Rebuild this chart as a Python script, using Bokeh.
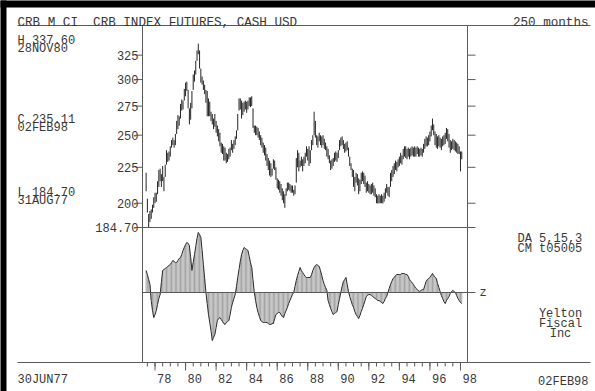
import math
from bokeh.plotting import figure
from bokeh.models import Range1d, LinearScale, Label, BoxAnnotation, ColumnDataSource
from bokeh.core.properties import value
from bokeh.embed import file_html
from bokeh.resources import INLINE

FONT = "Liberation Mono"
INK = "#383838"
RULE = "#5a5a5a"

# ---- monthly CRB index bars, Jun 1977 .. Feb 1998 ----
first_year, first_month = 1977, 6

price_low = [
    208, 194, 184.7, 188, 190, 194, 197,                        # 1977 Jun-Dec
    200, 201, 206, 211, 215, 211, 215, 208, 218, 227, 229, 230,  # 1978
    233, 240, 242, 240, 242, 251, 255, 258, 264, 271, 272, 280,  # 1979
    284, 289, 273, 259, 263, 273, 290, 298, 305, 319, 326, 311,  # 1980
    297, 295, 290, 286, 278, 266, 266, 266, 262, 259, 255, 257,  # 1981
    252, 249, 245, 241, 236, 235, 230, 230, 228, 229, 231, 233,  # 1982
    238, 236, 239, 242, 247, 254, 271, 272, 264, 267, 270, 272,  # 1983
    269, 272, 275, 274, 275, 256, 252, 250, 250, 248, 246, 242,  # 1984
    240, 236, 234, 230, 226, 223, 219, 218, 219, 224, 223, 216,  # 1985
    210, 209, 207, 205, 202, 200, 197, 205, 208, 209, 208, 207,  # 1986
    207, 205, 206, 214, 225, 222, 225, 226, 222, 226, 228, 233,  # 1987
    230, 226, 228, 238, 242, 250, 248, 242, 240, 245, 242, 240,  # 1988
    242, 239, 238, 233, 231, 228, 223, 224, 226, 229, 230, 229,  # 1989
    232, 238, 241, 242, 239, 236, 237, 238, 233, 226, 223, 218,  # 1990
    211, 208, 214, 212, 206, 208, 213, 215, 213, 211, 207, 208,  # 1991
    207, 206, 206, 207, 205, 204, 200, 199.8, 200, 200, 200, 199.8,  # 1992
    201, 203, 207, 205, 204, 211, 215, 218, 220, 223, 222, 225,  # 1993
    226, 228, 227, 231, 233, 232, 231, 233, 231, 233, 234, 233,  # 1994
    233, 233, 235, 233, 233, 234, 233, 236, 239, 241, 241, 242,  # 1995
    245, 249, 254, 250, 242, 240, 239, 241, 240, 238, 241, 242,  # 1996
    243, 247, 245, 240, 236, 238, 239, 238, 237, 236, 235, 235,  # 1997
    222, 231,                                                    # 1998 Jan-Feb
]

price_high = [
    221, 203, 193, 195, 196, 199, 204,
    207, 207, 215, 223, 224, 220, 226, 218, 227, 238, 236, 237,
    241, 246, 248, 246, 251, 262, 267, 266, 277, 281, 280, 291,
    297, 298, 290, 273, 278, 289, 305, 309, 319, 330, 337.6, 330,
    311, 303, 299, 295, 290, 289, 282, 279, 270, 268, 264, 268,
    262, 258, 255, 252, 244, 243, 241, 240, 236, 235, 239, 240,
    246, 243, 246, 249, 254, 268, 282, 282, 280, 278, 279, 280,
    279, 280, 283, 283, 284, 273, 258, 258, 257, 256, 253, 250,
    248, 244, 242, 240, 235, 232, 230, 228, 224, 231, 230, 225,
    217, 216, 215, 213, 210, 208, 206, 210, 214, 214, 213, 212,
    212, 209, 212, 232, 238, 236, 230, 233, 231, 233, 236, 241,
    239, 241, 238, 246, 250, 270, 262, 250, 249, 252, 250, 249,
    250, 247, 244, 241, 239, 234, 230, 231, 232, 236, 237, 236,
    238, 246, 248, 249, 246, 243, 244, 245, 240, 233, 228, 224,
    223, 218, 221, 220, 217, 216, 221, 222, 221, 219, 214, 215,
    213, 212, 213, 214, 212, 210, 206, 205, 206, 205, 206, 205,
    207, 210, 213, 211, 211, 221, 223, 226, 228, 230, 229, 231,
    233, 236, 234, 239, 241, 241, 239, 240, 239, 240, 241, 240,
    241, 240, 241, 240, 239, 240, 239, 243, 247, 249, 248, 250,
    253, 258, 264, 259, 253, 251, 249, 250, 248, 247, 249, 250,
    252, 256, 255, 251, 246, 245, 247, 246, 245, 244, 243, 241,
    237, 237,
]

# difference-of-averages oscillator (DA 5,15,3), same months
osc_da = [
    22, 18, 13, 8, -8, -18, -25,
    -22, -18, -12, -6, -2, 10, 22, 23, 24, 25, 26, 27,
    28, 30, 32, 31, 30, 30, 32, 34, 35, 38, 42, 45,
    48, 50, 49, 47, 35, 22, 30, 38, 46, 54, 60, 58,
    55, 42, 28, 14, 0, -11, -22, -30, -38, -48, -45, -42,
    -35, -28, -26, -25, -27, -29, -31, -32, -30, -29, -28, -22,
    -15, -10, -6, -2, 6, 15, 23, 31, 38, 42, 45, 44,
    43, 42, 36, 30, 25, 12, 0, -8, -15, -20, -24, -28,
    -29, -30, -30, -30, -30, -31, -32, -32, -31, -31, -26, -22,
    -21, -20, -20, -22, -24, -25, -21, -18, -15, -11, -8, -5,
    -2, 0, 6, 12, 17, 21, 25, 22, 20, 18, 16, 15,
    15, 15, 15, 18, 22, 25, 27, 28, 27, 26, 22, 17,
    12, 8, 5, 2, -8, -12, -16, -19, -22, -21, -20, -19,
    -12, -6, 0, 6, 11, 13, 15, 8, 1, -4, -8, -12,
    -15, -19, -22, -24, -26, -23, -19, -16, -12, -8, -4, -3,
    -2, -2, -3, -4, -5, -6, -7, -8, -8, -9, -10, -11,
    -9, -6, -4, 0, 4, 8, 11, 14, 15, 17, 18, 18,
    18, 18, 19, 19, 19, 18, 18, 16, 13, 11, 10, 8,
    6, 4, 3, 2, 1, 2, 3, 3, 7, 11, 13, 14,
    15, 17, 19, 17, 15, 14, 9, 5, 1, -3, -6, -9,
    -11, -8, -6, -4, -1, 1, 2, 1, 0, -3, -6, -8,
    -10, -11,
]

price_ticks = [200, 225, 250, 275, 300, 325]
price_tick_labels = ["200", "225", "250", "275", "300", "325"]
period_low = 184.70
period_low_label = "184.70"
year_ticks = [1978, 1980, 1982, 1984, 1986, 1988, 1990, 1992, 1994, 1996, 1998]
year_labels = ["78", "80", "82", "84", "86", "88", "90", "92", "94", "96", "98"]
half_year_ticks = [1977.5 + 0.5 * k for k in range(42)]

months = [first_year + (first_month - 1 + i) / 12 for i in range(len(price_low))]
src = ColumnDataSource(dict(t=months, lo=price_low, hi=price_high, osc=osc_da))

# ---- page geometry (pixels from the page's top-left) ----
W, H = 595, 391
PANEL_L, PANEL_R = 142, 467
PRICE_TOP, SPLIT, OSC_BOT = 25, 227, 362

x0, x1 = 1977.18, 1998.46                # time span of the panels
price_top = 358.2                        # log scale, period low sits on the split
osc_lo, osc_hi = -70.0, 65.0             # oscillator panel extent

ppy = (PANEL_R - PANEL_L) / (x1 - x0)
x_range = Range1d(x0 - PANEL_L / ppy, x1 + (W - PANEL_R) / ppy)
k = math.log(price_top / period_low) / (SPLIT - PRICE_TOP)
y_range = Range1d(period_low * math.exp(-(H - SPLIT) * k), period_low * math.exp(SPLIT * k))
upp = (osc_hi - osc_lo) / (OSC_BOT - SPLIT)
osc_range = Range1d(osc_lo - (H - OSC_BOT) * upp, osc_hi + SPLIT * upp)

p = figure(width=W, height=H, x_range=x_range, y_range=y_range,
           y_axis_type="log", x_axis_location=None, y_axis_location=None,
           extra_y_ranges={"osc": osc_range}, extra_y_scales={"osc": LinearScale()},
           toolbar_location=None, output_backend="svg", min_border=0,
           outline_line_color=None, background_fill_color="white",
           border_fill_color="white")
p.grid.visible = False

# black page edges
edge = dict(left_units="screen", right_units="screen", bottom_units="screen",
            top_units="screen", fill_color="black", fill_alpha=1, line_color=None)
p.add_layout(BoxAnnotation(left=-2, right=6, bottom=-2, top=H + 2, **edge))
p.add_layout(BoxAnnotation(left=-2, right=W + 2, bottom=H - 7, top=H + 2, **edge))

# price bars
p.segment(x0="t", y0="lo", x1="t", y1="hi", source=src, line_color="#242424", line_width=1)

# oscillator: vertical hatching to zero plus outline
p.segment(x0="t", y0=0, x1="t", y1="osc", source=src, line_color="#a2a2a2",
          line_width=1, y_range_name="osc")
p.line("t", "osc", source=src, line_color="#2a2a2a", line_width=1, y_range_name="osc")

rule = dict(line_color=RULE, line_width=1)
# panel borders
p.segment(x0=[x0, x1], y0=[period_low] * 2, x1=[x0, x1], y1=[price_top] * 2, **rule)
p.segment(x0=[x0, x1], y0=[osc_lo] * 2, x1=[x0, x1], y1=[osc_hi] * 2, y_range_name="osc", **rule)
p.segment(x0=[x0], y0=[period_low], x1=[x1], y1=[period_low], **rule)
p.segment(x0=[x0], y0=[0], x1=[x1], y1=[0], y_range_name="osc", **rule)
# header rule and bottom rule running across the page
p.segment(x0=[x0], y0=[price_top], x1=[x1], y1=[price_top], **rule)
p.ray(x=[x0], y=[price_top], length=125, angle=math.pi, length_units="screen", **rule)
p.ray(x=[x1], y=[price_top], length=123, angle=0, length_units="screen", **rule)
p.segment(x0=[x0], y0=[osc_lo], x1=[x1], y1=[osc_lo], y_range_name="osc", **rule)
p.ray(x=[x0], y=[osc_lo], length=125, angle=math.pi, length_units="screen",
      y_range_name="osc", **rule)
p.ray(x=[x1], y=[osc_lo], length=123, angle=0, length_units="screen",
      y_range_name="osc", **rule)

# price axis ticks (left and right)
p.ray(x=[x0] * 7, y=price_ticks + [period_low], length=7, angle=math.pi,
      length_units="screen", **rule)
p.ray(x=[x1] * 7, y=price_ticks + [period_low], length=8, angle=0,
      length_units="screen", **rule)
# oscillator zero tick
p.ray(x=[x1], y=[0], length=8, angle=0, length_units="screen", y_range_name="osc", **rule)
# time axis ticks
p.ray(x=half_year_ticks, y=[osc_lo] * len(half_year_ticks), length=4, angle=-math.pi / 2,
      length_units="screen", y_range_name="osc", **rule)
p.ray(x=year_ticks, y=[osc_lo] * len(year_ticks), length=8, angle=-math.pi / 2,
      length_units="screen", y_range_name="osc", **rule)

font = dict(text_font=value(FONT), text_font_size="12px", text_color=INK)
p.text(x=[x0] * 7, y=price_ticks + [period_low], text=price_tick_labels + [period_low_label],
       x_offset=-4, text_align="right", text_baseline="alphabetic", **font)
p.text(x=year_ticks, y=[osc_lo] * len(year_ticks), text=year_labels, x_offset=2, y_offset=16,
       text_align="left", text_baseline="alphabetic", y_range_name="osc", **font)
p.text(x=[x1], y=[0], text=["z"], x_offset=12, text_align="left", text_baseline="middle",
       y_range_name="osc", **font)


def note(x, baseline, s, align="left", size="12px"):
    """Text placed by its page position (x, baseline measured from the top)."""
    p.add_layout(Label(x=x, y=H - baseline, x_units="screen", y_units="screen", text=s,
                       text_align=align, text_baseline="alphabetic",
                       text_font=FONT, text_font_size=size, text_color=INK))


note(17, 22, "CRB M CI\u00a0 CRB INDEX FUTURES, CASH USD", size="12.6px")
note(588, 22, "250 months", align="right", size="12.6px")
note(17, 40, "H 337.60")
note(17, 48, "28NOV80")
note(17, 119, "C 235.11")
note(17, 127, "02FEB98")
note(17, 192, "L 184.70")
note(17, 200, "31AUG77")
note(517, 238, "DA 5,15,3")
note(517, 248, "CM t05005")
note(560, 313, "Yelton", align="center")
note(560, 323, "Fiscal", align="center")
note(560, 333, "Inc", align="center")
note(17, 379, "30JUN77")
note(588, 381, "02FEB98", align="right")

open("out.html", "w").write(file_html(p, INLINE))
